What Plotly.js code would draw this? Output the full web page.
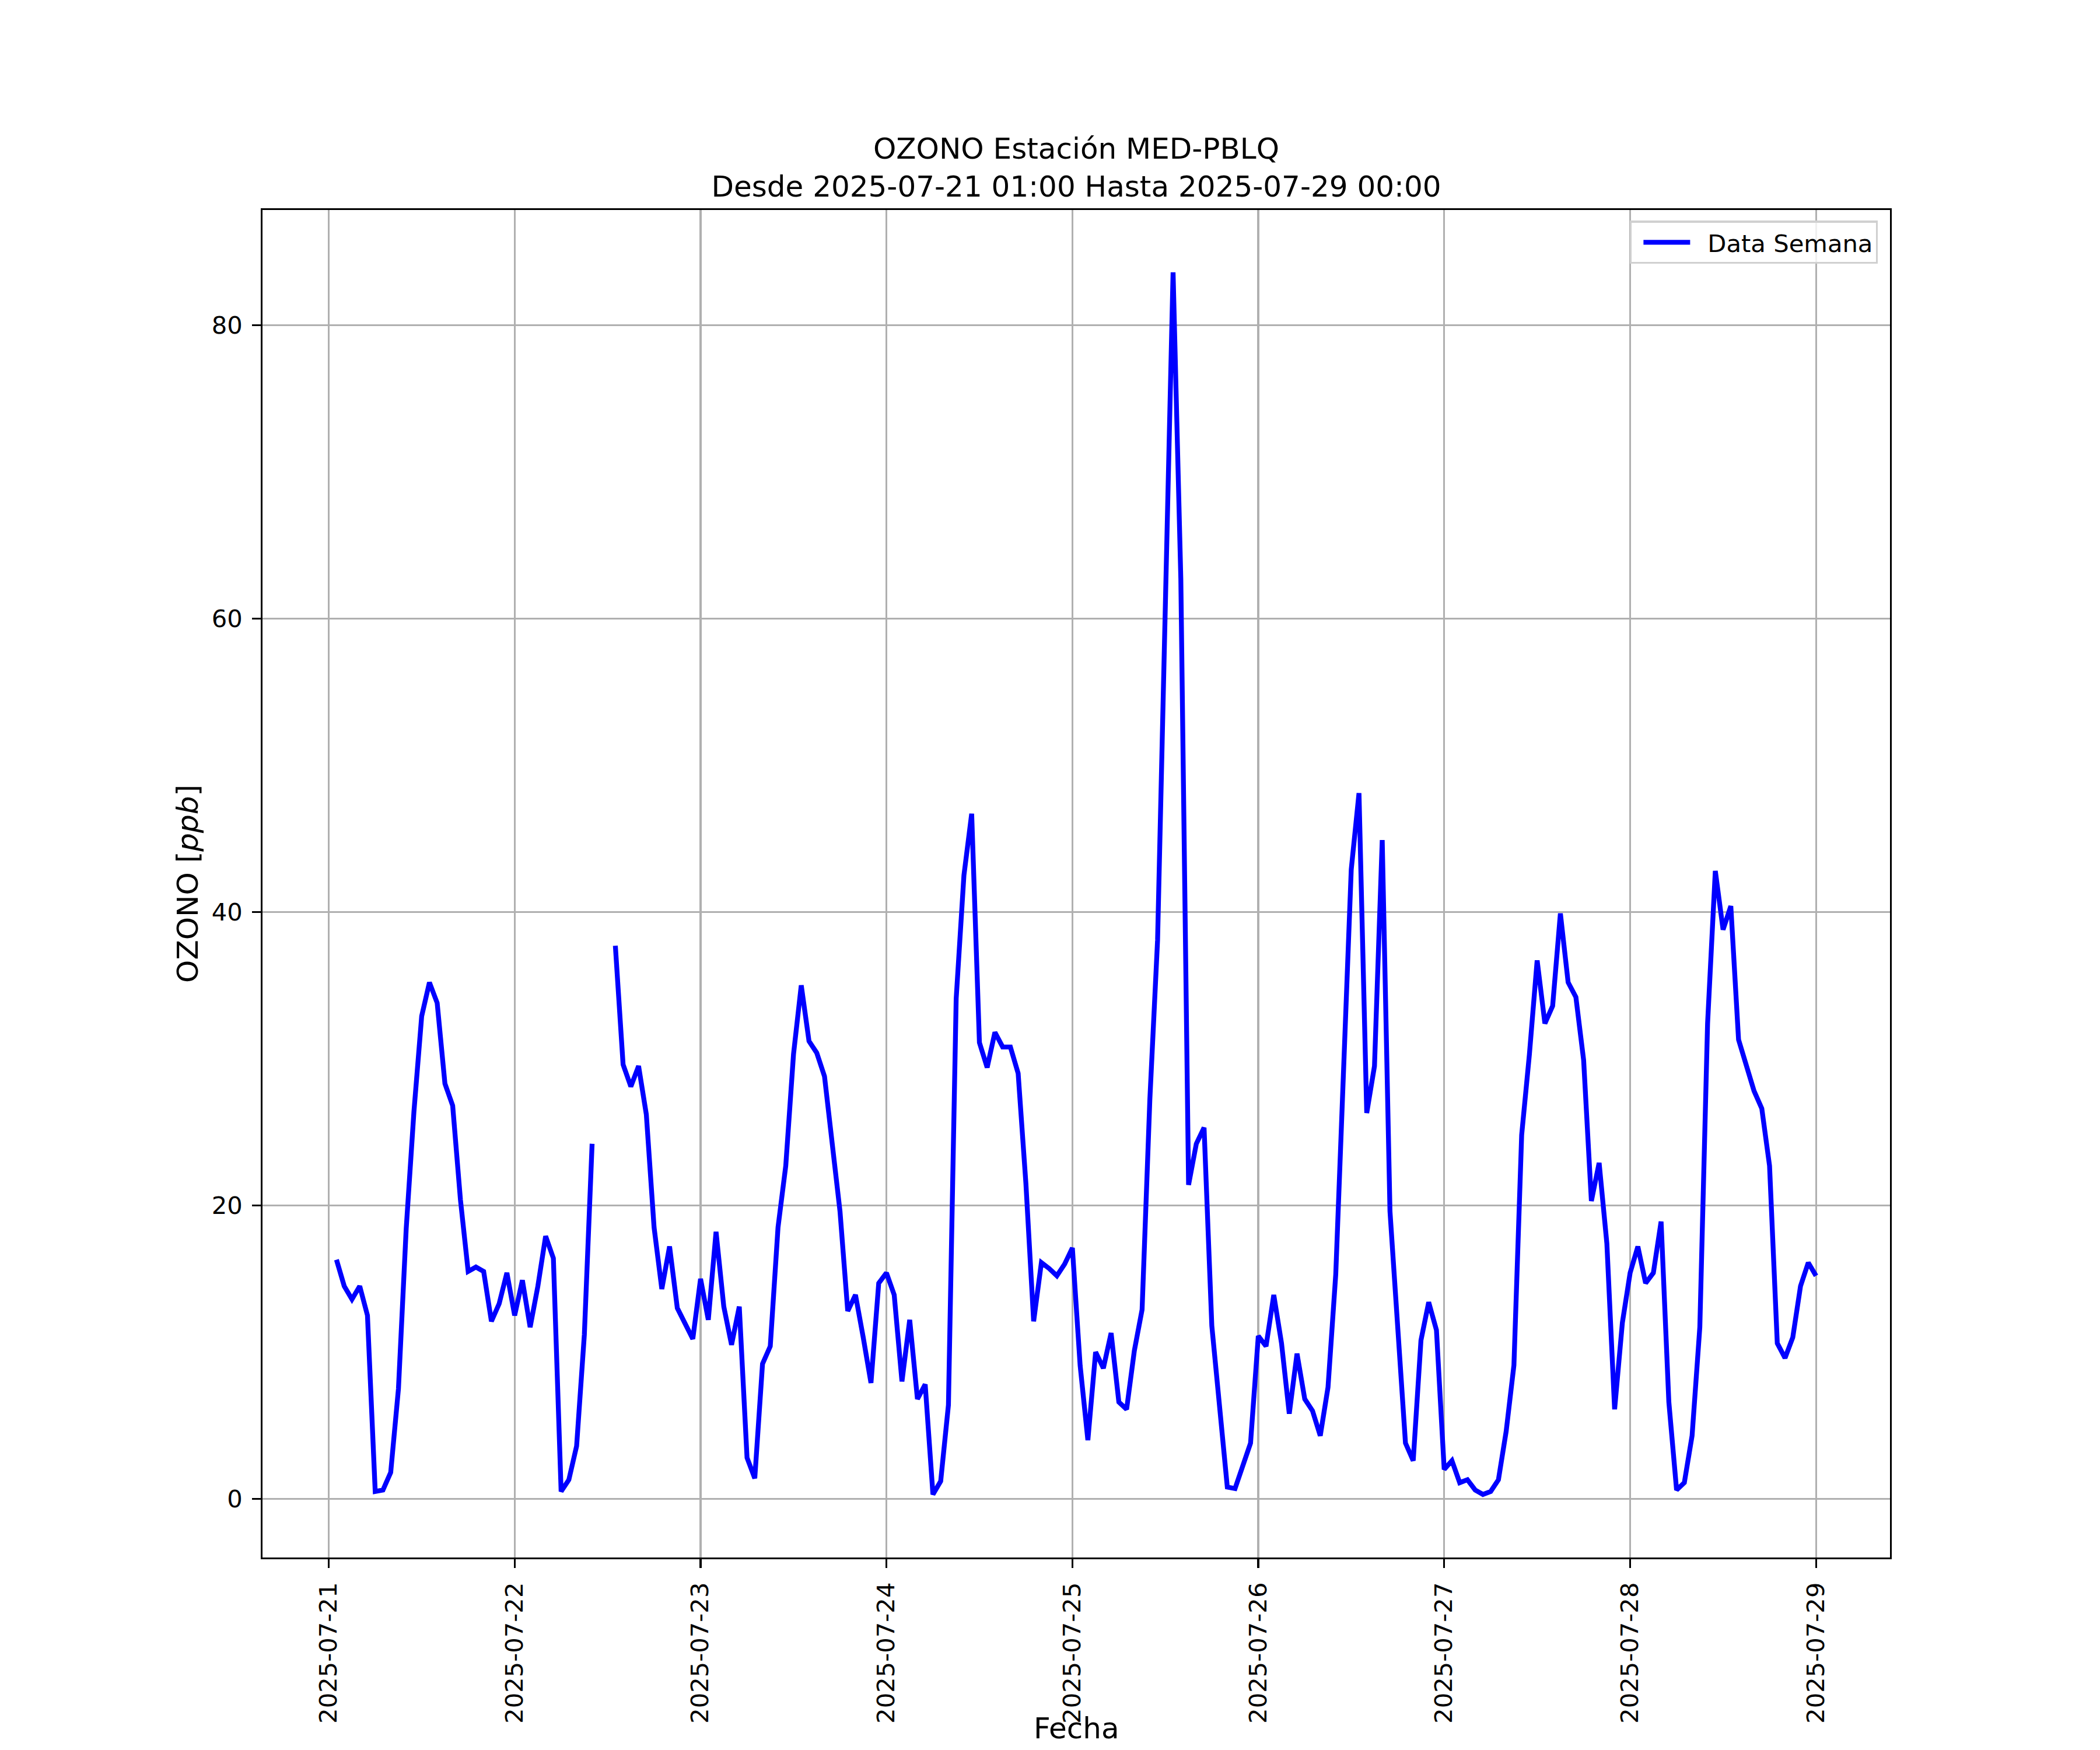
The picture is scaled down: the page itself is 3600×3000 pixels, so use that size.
<!DOCTYPE html>
<html>
<head>
<meta charset="utf-8">
<script src="https://cdn.plot.ly/plotly-3.0.1.min.js"></script>
<style>
  html, body { margin: 0; padding: 0; background: #ffffff; }
  #chart { width: 3600px; height: 3000px; }
</style>
</head>
<body>
<div id="chart"></div>
<script>
// Hourly ozone values (ppb); each array = hours 01:00 .. 24:00 (next day 00:00)
const day21 = [16.3, 14.5, 13.6, 14.5, 12.5, 0.5, 0.6, 1.8, 7.5, 18.4, 26.4, 32.9, 35.2, 33.8, 28.3, 26.8, 20.4, 15.5, 15.8, 15.5, 12.1, 13.3, 15.4, 12.5];
const day22 = [14.9, 11.7, 14.5, 17.9, 16.4, 0.5, 1.3, 3.6, 11.2, 24.2, null, null, 37.7, 29.6, 28.1, 29.5, 26.2, 18.5, 14.3, 17.2, 13.0, 12.0, 10.9, 15.0];
const day23 = [12.2, 18.2, 13.1, 10.5, 13.1, 2.8, 1.4, 9.2, 10.4, 18.5, 22.7, 30.3, 35.0, 31.2, 30.4, 28.8, 24.4, 19.6, 12.8, 13.9, 11.0, 7.9, 14.7, 15.4];
const day24 = [13.9, 8.0, 12.2, 6.8, 7.8, 0.3, 1.2, 6.4, 34.1, 42.5, 46.7, 31.1, 29.4, 31.8, 30.8, 30.8, 29.0, 21.5, 12.1, 16.1, 15.7, 15.2, 16.0, 17.1];
const day25 = [9.1, 4.0, 10.0, 8.9, 11.3, 6.6, 6.1, 10.1, 12.9, 27.2, 38.1, 61.0, 83.6, 62.7, 21.4, 24.2, 25.3, 11.8, 6.7, 0.8, 0.7, 2.3, 3.8, 11.1];
const day26 = [10.4, 13.9, 10.6, 5.8, 9.9, 6.8, 6.0, 4.3, 7.6, 15.3, 29.2, 42.9, 48.1, 26.3, 29.5, 44.9, 19.6, 12.0, 3.8, 2.6, 10.8, 13.4, 11.5, 2.0];
const day27 = [2.6, 1.1, 1.3, 0.6, 0.3, 0.5, 1.3, 4.6, 9.1, 24.8, 30.3, 36.7, 32.4, 33.6, 39.9, 35.2, 34.2, 29.9, 20.3, 22.9, 17.4, 6.1, 12.0, 15.4];
const day28 = [17.2, 14.7, 15.4, 18.9, 6.6, 0.6, 1.1, 4.3, 11.7, 32.4, 42.8, 38.8, 40.4, 31.3, 29.5, 27.8, 26.6, 22.7, 10.6, 9.6, 11.0, 14.5, 16.1, 15.2];

const days = ['2025-07-21', '2025-07-22', '2025-07-23', '2025-07-24', '2025-07-25', '2025-07-26', '2025-07-27', '2025-07-28'];
const dayValues = [day21, day22, day23, day24, day25, day26, day27, day28];

const seriesName = 'Data Semana';
const titleLine1 = 'OZONO Estación MED-PBLQ';
const titleLine2 = 'Desde 2025-07-21 01:00 Hasta 2025-07-29 00:00';
const xTitle = 'Fecha';
const yTitle = 'OZONO [<i>ppb</i>]';
const yTicks = [0, 20, 40, 60, 80];

function fmt(d) {
  return d.toISOString().slice(0, 19).replace('T', ' ');
}

const xs = [];
const ys = [];
days.forEach((day, i) => {
  const base = new Date(day + 'T00:00:00Z').getTime();
  dayValues[i].forEach((v, k) => {
    xs.push(fmt(new Date(base + (k + 1) * 3600000)));
    ys.push(v);
  });
});

const trace = {
  x: xs,
  y: ys,
  type: 'scatter',
  mode: 'lines',
  name: seriesName,
  connectgaps: false,
  line: { color: '#0000ff', width: 8.3 }
};

const axisCommon = {
  showline: true,
  mirror: true,
  linecolor: '#000000',
  linewidth: 3.3,
  ticks: 'outside',
  ticklen: 14.6,
  tickwidth: 3.3,
  tickcolor: '#000000',
  showgrid: true,
  gridcolor: '#b0b0b0',
  gridwidth: 3.3,
  zeroline: false,
  tickfont: { family: 'DejaVu Sans', size: 41.7, color: '#000000' }
};

const layout = {
  width: 3600,
  height: 3000,
  margin: { l: 450, r: 360, t: 360, b: 330 },
  paper_bgcolor: '#ffffff',
  plot_bgcolor: '#ffffff',
  font: { family: 'DejaVu Sans', size: 41.7, color: '#000000' },
  showlegend: true,
  title: {
    text: titleLine1 + '<br>' + titleLine2,
    font: { family: 'DejaVu Sans', size: 50, color: '#000000' },
    x: 0.5, xref: 'paper', xanchor: 'center',
    y: 1, yref: 'paper', yanchor: 'bottom',
    pad: { b: 88 }
  },
  xaxis: Object.assign({}, axisCommon, {
    type: 'date',
    range: ['2025-07-20 15:27:00', '2025-07-29 09:33:00'],
    tick0: '2025-07-21',
    dtick: 86400000,
    tickformat: '%Y-%m-%d',
    tickangle: -90,
    ticklabelstandoff: 8
  }),
  yaxis: Object.assign({}, axisCommon, {
    range: [-4.0, 87.85],
    tickmode: 'array',
    tickvals: yTicks,
    ticktext: yTicks.map(String),
    ticklabelstandoff: 8,
    title: { text: yTitle, font: { family: 'DejaVu Sans', size: 50, color: '#000000' }, standoff: 8 }
  }),
  annotations: [{
    text: xTitle,
    xref: 'paper', x: 0.5, xanchor: 'center',
    yref: 'paper', y: 0, yanchor: 'top',
    yshift: -262,
    showarrow: false,
    font: { family: 'DejaVu Sans', size: 50, color: '#000000' }
  }],
  legend: {
    x: 0.9925, xanchor: 'right',
    y: 0.992, yanchor: 'top',
    bgcolor: 'rgba(255,255,255,0.8)',
    bordercolor: '#d0d0d0',
    borderwidth: 3.3,
    itemwidth: 120,
    font: { family: 'DejaVu Sans', size: 41.7, color: '#000000' }
  }
};

Plotly.newPlot('chart', [trace], layout, { displayModeBar: false, staticPlot: true }).then(function (gd) {
  // lengthen the legend line sample to match the reference handle length
  gd.querySelectorAll('.legend .legendlines path').forEach(function (p) {
    p.setAttribute('d', 'M20,0h80');
  });
});
</script>
</body>
</html>
